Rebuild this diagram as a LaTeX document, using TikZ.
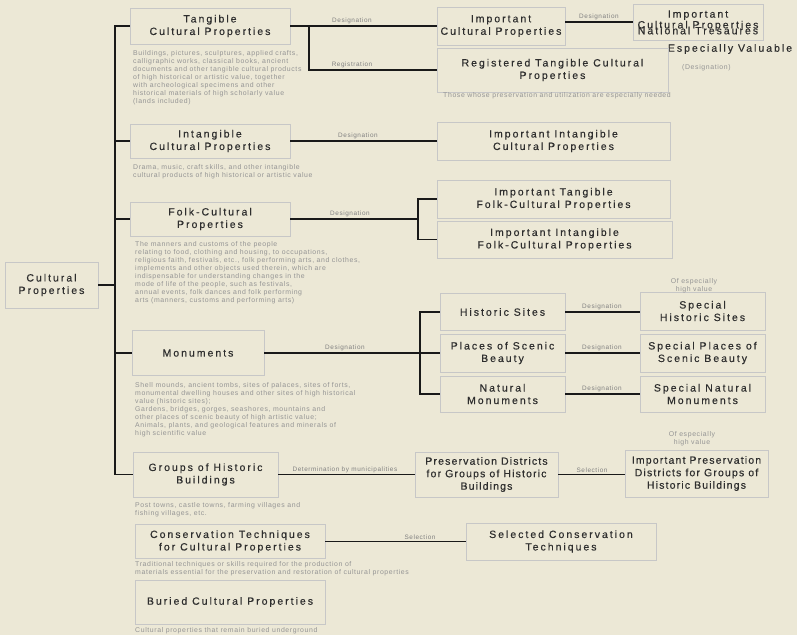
\documentclass[tikz,border=0pt]{standalone}
\usepackage{fontspec}
\setmainfont{Liberation Sans}
\newfontfamily\lblfont{Liberation Sans}[LetterSpace=19,FakeBold=0.4]
\newfontfamily\lbltight{Liberation Sans}[LetterSpace=11,FakeBold=0.4]
\newfontfamily\notefont{Liberation Sans}[LetterSpace=9]
\definecolor{paper}{RGB}{236,232,214}
\tikzset{
  box/.style={draw=black!22, line width=.6pt, align=center, inner sep=0pt,
    font=\lblfont\fontsize{10.5}{12.5}\selectfont, text=black!82},
  tight/.style={font=\lbltight\fontsize{10.5}{12.5}\selectfont},
  plain/.style={align=center, inner sep=0pt, font=\lblfont\fontsize{10.5}{9}\selectfont, text=black!82},
  note/.style={anchor=north west, align=left, inner sep=0pt,
    font=\notefont\fontsize{6.9}{8}\selectfont, text=black!42},
  tag/.style={above, inner sep=1.5pt, font=\notefont\fontsize{6.4}{6.4}\selectfont, text=black!50},
  link/.style={line width=1.6pt, black!90},
}
\begin{document}
\begin{tikzpicture}[x=1pt,y=-1pt]
\fill[paper] (0,0) rectangle (797,635);
\useasboundingbox (0,0) rectangle (797,635);

\node[box, minimum width=93pt, minimum height=46pt] (cp) at (51.5,285) {Cultural\\Properties};

\node[box, minimum width=160pt, minimum height=36pt] (tan) at (210,26) {Tangible\\Cultural Properties};
\node[box, minimum width=160pt, minimum height=34pt] (int) at (210,141) {Intangible\\Cultural Properties};
\node[box, minimum width=160pt, minimum height=34pt] (folk) at (210,219) {Folk-Cultural\\Properties};
\node[box, minimum width=132pt, minimum height=45pt] (mon) at (198,353) {Monuments};
\node[box, minimum width=145pt, minimum height=45pt] (grp) at (205.5,474.5) {Groups of Historic\\Buildings};
\node[box, minimum width=190pt, minimum height=34pt] (cons) at (230,541.5) {Conservation Techniques\\for Cultural Properties};
\node[box, minimum width=190pt, minimum height=44pt] (bur) at (230,602) {Buried Cultural Properties};

\node[box, minimum width=128pt, minimum height=38pt] (icp) at (501,26) {Important\\Cultural Properties};
\node[box, minimum width=130pt, minimum height=36pt] (nt) at (698,22) {};
\node[plain] (ntt) at (698,20.5) {Important\\Cultural Properties};
\node[plain] (ntn) at (698,30.5) {National Tresaures};
\node[plain] (ev) at (730,49) {Especially Valuable};
\node[box, minimum width=231pt, minimum height=44pt] (reg) at (552.5,70) {Registered Tangible Cultural\\Properties};
\node[box, minimum width=233pt, minimum height=38pt] (ii) at (553.5,141) {Important Intangible\\Cultural Properties};
\node[box, minimum width=233pt, minimum height=38pt] (itf) at (553.5,199) {Important Tangible\\Folk-Cultural Properties};
\node[box, minimum width=235pt, minimum height=37pt] (iif) at (554.5,239.5) {Important Intangible\\Folk-Cultural Properties};

\node[box, minimum width=125pt, minimum height=37pt] (hs) at (502.5,312) {Historic Sites};
\node[box, minimum width=125pt, minimum height=38pt] (psb) at (502.5,353) {Places of Scenic\\Beauty};
\node[box, minimum width=125pt, minimum height=36pt] (nm) at (502.5,394) {Natural\\Monuments};
\node[box, minimum width=125pt, minimum height=38pt] (shs) at (702.5,311) {Special\\Historic Sites};
\node[box, minimum width=125pt, minimum height=38pt] (sps) at (702.5,353) {Special Places of\\Scenic Beauty};
\node[box, minimum width=125pt, minimum height=36pt] (snm) at (702.5,394) {Special Natural\\Monuments};

\node[box, tight, minimum width=143pt, minimum height=45pt] (pd) at (486.5,474.5) {Preservation Districts\\for Groups of Historic\\Buildings};
\node[box, tight, minimum width=143pt, minimum height=47pt] (ipd) at (696.5,473.5) {Important Preservation\\Districts for Groups of\\Historic Buildings};
\node[box, minimum width=190pt, minimum height=37pt] (sct) at (561,541.5) {Selected Conservation\\Techniques};

\node[note] (tann) at (133,50) {Buildings, pictures, sculptures, applied crafts,\\calligraphic works, classical books, ancient\\documents and other tangible cultural products\\of high historical or artistic value, together\\with archeological specimens and other\\historical materials of high scholarly value\\(lands included)};
\node[note] (intn) at (133,164) {Drama, music, craft skills, and other intangible\\cultural products of high historical or artistic value};
\node[note] (folkn) at (135,241) {The manners and customs of the people\\relating to food, clothing and housing, to occupations,\\religious faith, festivals, etc., folk performing arts, and clothes,\\implements and other objects used therein, which are\\indispensable for understanding changes in the\\mode of life of the people, such as festivals,\\annual events, folk dances and folk performing\\arts (manners, customs and performing arts)};
\node[note] (monn) at (135,382) {Shell mounds, ancient tombs, sites of palaces, sites of forts,\\monumental dwelling houses and other sites of high historical\\value (historic sites);\\Gardens, bridges, gorges, seashores, mountains and\\other places of scenic beauty of high artistic value;\\Animals, plants, and geological features and minerals of\\high scientific value};
\node[note] (grpn) at (135,502) {Post towns, castle towns, farming villages and\\fishing villages, etc.};
\node[note] (regn) at (443,92) {Those whose preservation and utilization are especially needed};
\node[note] (consn) at (135,561) {Traditional techniques or skills required for the production of\\materials essential for the preservation and restoration of cultural properties};
\node[note] (burn) at (135,627) {Cultural properties that remain buried underground};
\node[note] (evn) at (682,64) {(Designation)};
\node[note, align=center, anchor=center] (shsn) at (694,286) {Of especially\\high value};
\node[note, align=center, anchor=center] (ipdn) at (692,439) {Of especially\\high value};

\coordinate (tr) at (115,26);
\draw[link] (tan.west) -- (tan.west -| tr) |- (grp.west);
\draw[link] (cp.east) -- (cp.east -| tr);
\draw[link] (int.west) -- (int.west -| tr);
\draw[link] (folk.west) -- (folk.west -| tr);
\draw[link] (mon.west) -- (mon.west -| tr);

\coordinate (tb) at (309,26);
\draw[link] (tan.east) -- (icp.west);
\draw[link] (tb) |- (reg.west);
\draw[link] (icp.east |- nt.west) -- (nt.west);
\draw[link] (int.east) -- (int.east -| ii.west);

\coordinate (fb) at (418,219);
\draw[link] (folk.east) -- (fb);
\draw[link] (itf.west) -| (fb) |- (iif.west);

\coordinate (mb) at (420,353);
\draw[link] (mon.east) -- (mb);
\draw[link] (hs.west) -| (mb) |- (nm.west);
\draw[link] (mb) -- (psb.west);
\draw[link] (hs.east) -- (hs.east -| shs.west);
\draw[link] (psb.east) -- (sps.west);
\draw[link] (nm.east) -- (snm.west);

\draw[link] (grp.east) -- (pd.west);
\draw[link] (pd.east) -- (pd.east -| ipd.west);
\draw[link] (cons.east) -- (cons.east -| sct.west);

\node[tag] (t1) at (352,26) {Designation};
\node[tag] (t2) at (352,70) {Registration};
\node[tag] (t3) at (599,22) {Designation};
\node[tag] (t4) at (358,141) {Designation};
\node[tag] (t5) at (350,219) {Designation};
\node[tag] (t6) at (345,353) {Designation};
\node[tag] (t7) at (602,312) {Designation};
\node[tag] (t8) at (602,353) {Designation};
\node[tag] (t9) at (602,394) {Designation};
\node[tag] (t10) at (345,474.5) {Determination by municipalities};
\node[tag] (t11) at (592,474.5) {Selection};
\node[tag] (t12) at (420,541.5) {Selection};
\end{tikzpicture}
\end{document}
